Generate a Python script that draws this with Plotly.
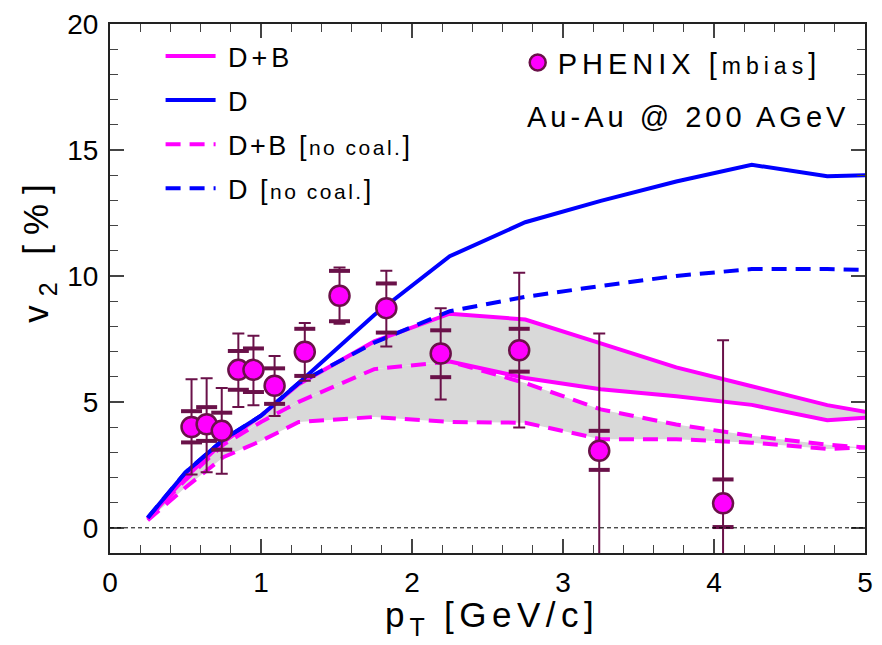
import plotly.graph_objects as go

# ---- model curves: elliptic flow of heavy-flavour electrons vs pT ----
pt_model = [0.25, 0.5, 0.75, 1.0, 1.25, 1.75, 2.25, 2.75, 3.25, 3.75, 4.25, 4.75, 5.25]
db_hi = [0.35, 2.0, 3.4, 4.45, 5.7, 7.4, 8.5, 8.27, 7.32, 6.37, 5.62, 4.87, 4.35]
db_nc_hi = [0.35, 1.9, 3.3, 4.2, 5.0, 6.3, 6.6, 5.75, 4.7, 4.1, 3.65, 3.3, 3.08]
db_nc_lo = [0.3, 1.6, 2.8, 3.45, 4.2, 4.4, 4.2, 4.17, 3.52, 3.52, 3.38, 3.13, 3.25]
d_full = [0.4, 2.2, 3.5, 4.45, 5.75, 8.45, 10.78, 12.13, 12.98, 13.75, 14.41, 13.96, 14.04]
d_nc = [0.4, 2.2, 3.5, 4.45, 5.75, 7.35, 8.6, 9.17, 9.6, 10.0, 10.27, 10.27, 10.2]
# lower edge of the D+B band above pT = 2.25 GeV/c
pt_lo = [2.25, 2.75, 3.25, 3.75, 4.25, 4.75, 5.25]
db_lo = [6.6, 5.95, 5.5, 5.22, 4.88, 4.27, 4.47]

# ---- PHENIX minimum-bias data ----
pt_data = [0.54, 0.64, 0.74, 0.85, 0.95, 1.09, 1.29, 1.52, 1.83, 2.19, 2.71, 3.24, 4.06]
v2_data = [4.0, 4.11, 3.85, 6.27, 6.27, 5.64, 6.99, 9.21, 8.72, 6.92, 7.05, 3.06, 0.97]
sys_hi = [5.90, 5.94, 5.55, 7.71, 7.62, 6.82, 8.13, 10.33, 10.2, 8.72, 10.13, 7.71, 7.45]
sys_lo = [2.12, 2.21, 2.15, 4.80, 4.87, 4.44, 5.84, 8.10, 7.2, 5.09, 3.98, -1.59, -5.5]
stat_hi = [4.63, 4.79, 4.57, 7.02, 7.12, 6.33, 7.90, 10.2, 9.7, 7.84, 7.90, 3.85, 1.92]
stat_lo = [3.39, 3.45, 3.10, 5.48, 5.39, 4.92, 6.03, 8.2, 7.75, 5.98, 6.20, 2.30, 0.03]

MAGENTA = "#ff00ff"
BLUE = "#0000ff"
GRAY = "#d9d9d9"
MAROON = "#6a1149"
FONT = "Liberation Sans"
DASH = "15px,9px"


def span(text, ls, size=None, shift=None):
    style = f"letter-spacing:{ls}px"
    if size:
        style += f";font-size:{size}px"
    if shift:
        style += f";baseline-shift:{shift}px"
    return f'<span style="{style}">{text}</span>'


def bracket_label(main, small, ls, small_size):
    """Main text followed by a bracketed note set in a smaller size."""
    return span(main + " [", ls) + span(small, ls, small_size) + span("]", ls)


fig = go.Figure()

# shaded bands (D+B with and without coalescence)
band_lo = db_nc_hi[:6] + db_lo
fig.add_trace(go.Scatter(x=pt_model, y=band_lo, mode="lines", line=dict(width=0),
                         showlegend=False, hoverinfo="skip"))
fig.add_trace(go.Scatter(x=pt_model, y=db_hi, mode="lines", line=dict(width=0),
                         fill="tonexty", fillcolor=GRAY, showlegend=False, hoverinfo="skip"))
fig.add_trace(go.Scatter(x=pt_model, y=db_nc_lo, mode="lines", line=dict(width=0),
                         showlegend=False, hoverinfo="skip"))
fig.add_trace(go.Scatter(x=pt_model, y=db_nc_hi, mode="lines", line=dict(width=0),
                         fill="tonexty", fillcolor=GRAY, showlegend=False, hoverinfo="skip"))

# zero reference line
fig.add_hline(y=0, line=dict(color="black", width=1, dash="4px,3px"))

# D+B curves
fig.add_trace(go.Scatter(x=pt_model, y=db_hi, mode="lines", name="\u00a0" + span("D+B", 4),
                         line=dict(color=MAGENTA, width=4), legendgroup="a", legendrank=1))
fig.add_trace(go.Scatter(x=pt_lo, y=db_lo, mode="lines", showlegend=False,
                         line=dict(color=MAGENTA, width=4), legendgroup="a"))
fig.add_trace(go.Scatter(x=pt_model, y=db_nc_hi, mode="lines",
                         name="\u00a0" + bracket_label("D+B", "no coal.", 2.5, 21),
                         line=dict(color=MAGENTA, width=4, dash=DASH), legendgroup="c",
                         legendrank=3))
fig.add_trace(go.Scatter(x=pt_model, y=db_nc_lo, mode="lines", showlegend=False,
                         line=dict(color=MAGENTA, width=4, dash=DASH), legendgroup="c"))

# D curves
fig.add_trace(go.Scatter(x=pt_model, y=d_full, mode="lines", name="\u00a0" + span("D", 4),
                         line=dict(color=BLUE, width=4), legendgroup="b", legendrank=2))
fig.add_trace(go.Scatter(x=pt_model, y=d_nc, mode="lines",
                         name="\u00a0" + bracket_label("D", "no coal.", 2.5, 21),
                         line=dict(color=BLUE, width=4, dash=DASH), legendgroup="d",
                         legendrank=4))

# data: systematic bars, statistical caps, points
err_plus = [h - v for h, v in zip(sys_hi, v2_data)]
err_minus = [v - l for v, l in zip(v2_data, sys_lo)]
fig.add_trace(go.Scatter(x=pt_data + pt_data, y=stat_hi + stat_lo, mode="markers",
                         marker=dict(symbol="line-ew", size=15,
                                     line=dict(color=MAROON, width=4)),
                         showlegend=False, hoverinfo="skip"))
fig.add_trace(go.Scatter(
    x=pt_data, y=v2_data, mode="markers",
    name=bracket_label("PHENIX", "mbias", 5, 23),
    marker=dict(size=20, color=MAGENTA, line=dict(color=MAROON, width=2.5)),
    error_y=dict(type="data", symmetric=False, array=err_plus, arrayminus=err_minus,
                 color=MAROON, thickness=2, width=6),
    legend="legend2",
))

axis_common = dict(
    showline=True, linecolor="#222", linewidth=2, mirror="allticks",
    ticks="inside", ticklen=14, tickwidth=1.5, tickcolor="#444",
    showgrid=False, zeroline=False,
    tickfont=dict(family=FONT, size=28, color="black"),
)

fig.update_layout(
    width=882, height=645,
    margin=dict(l=110, r=9, t=18, b=92),
    plot_bgcolor="white", paper_bgcolor="white",
    font=dict(family=FONT, color="black"),
    xaxis=dict(range=[0, 5], dtick=1, tick0=0,
               minor=dict(dtick=0.2, ticks="inside", ticklen=8, tickcolor="#444", tickwidth=1.2),
               ticklabelstandoff=3,
               **axis_common),
    yaxis=dict(range=[-1, 20], dtick=5, tick0=0,
               minor=dict(dtick=1, ticks="inside", ticklen=8, tickcolor="#444", tickwidth=1.2),
               ticklabelstandoff=4,
               **axis_common),
    legend=dict(x=0.067, y=0.985, xanchor="left", yanchor="top",
                bgcolor="rgba(0,0,0,0)", borderwidth=0,
                font=dict(family=FONT, size=27), tracegroupgap=6,
                traceorder="grouped", itemwidth=50),
    legend2=dict(x=0.54, y=0.975, xanchor="left", yanchor="top",
                 bgcolor="rgba(0,0,0,0)", borderwidth=0,
                 font=dict(family=FONT, size=29)),
    showlegend=True,
)

fig.add_annotation(text=span("Au-Au @ 200 AGeV", 4), x=0.765, y=0.825,
                   xref="paper", yref="paper", showarrow=False,
                   font=dict(family=FONT, size=29), xanchor="center", yanchor="middle")
# axis titles
fig.add_annotation(text=span("p", 5) + span("T", 4, 25, -9) + span(" [GeV/c]", 5.5),
                   x=0.506, y=-0.1236, xref="paper", yref="paper", showarrow=False,
                   font=dict(family=FONT, size=35), xanchor="center", yanchor="middle")
fig.add_annotation(text=span("v", 9) + span("2", 8, 25, -9) + span(" [%]", 10),
                   x=-0.094, y=0.575, xref="paper", yref="paper", showarrow=False,
                   textangle=-90, font=dict(family=FONT, size=35),
                   xanchor="center", yanchor="middle")

fig.write_html("out.html")
